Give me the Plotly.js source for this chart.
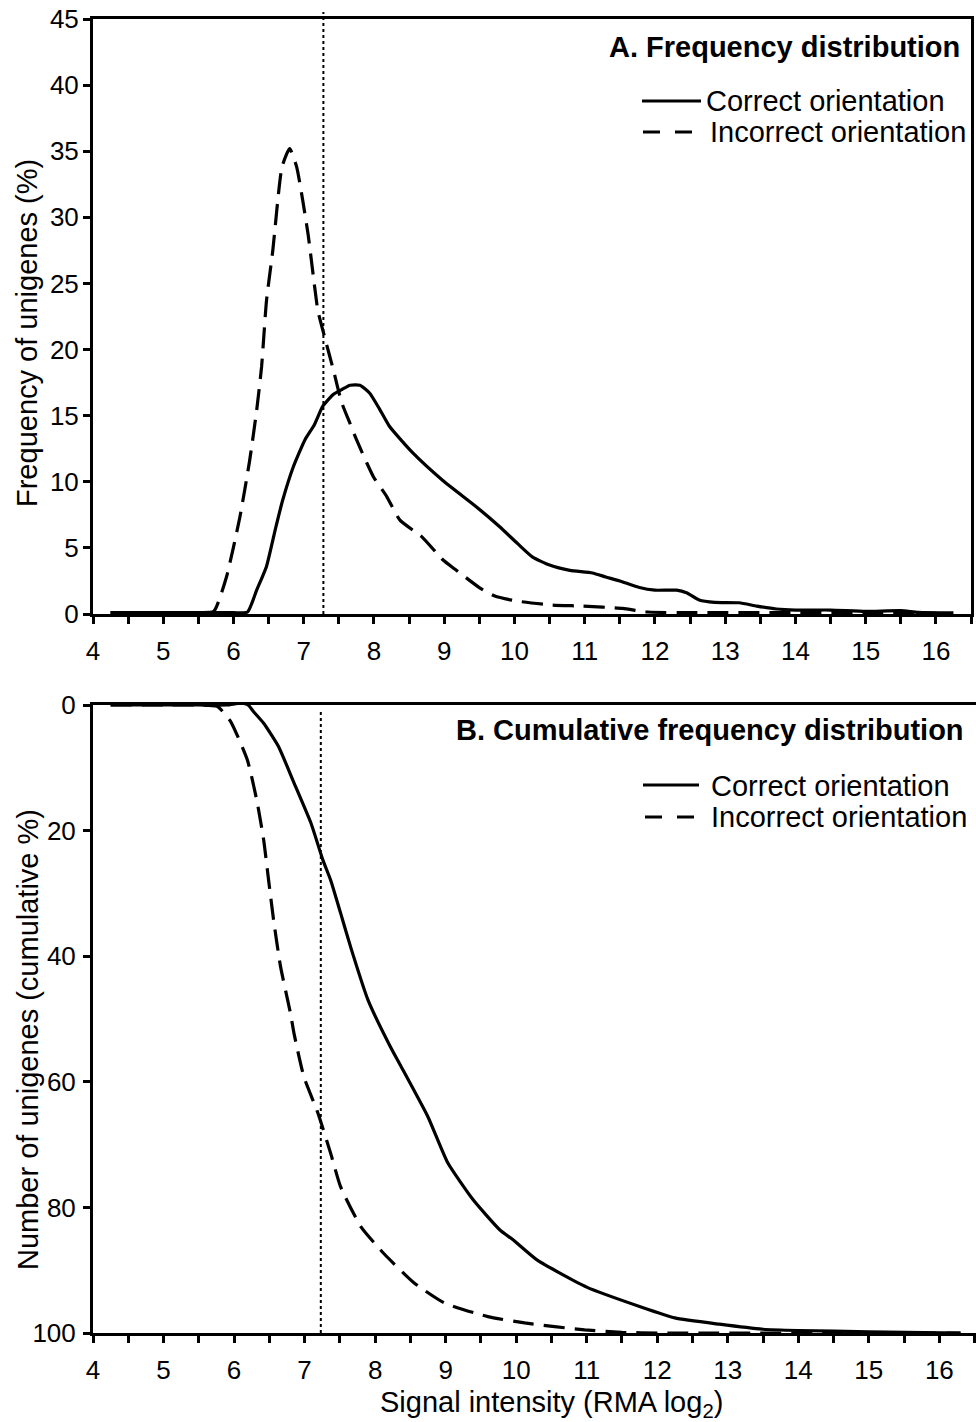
<!DOCTYPE html>
<html>
<head>
<meta charset="utf-8">
<script src="https://cdn.plot.ly/plotly-3.0.1.min.js"></script>
<style>
  html, body { margin: 0; padding: 0; background: #fff; }
  #chart { width: 976px; height: 1422px; }
</style>
</head>
<body>
<div id="chart"></div>
<script>
// ---------- Data ----------
// Panel A: frequency distribution (%)
const freqCorrectX = [4.25, 5.0, 5.5, 6.0, 6.2, 6.33, 6.47, 6.6, 6.7, 6.85, 7.02, 7.15, 7.27, 7.42, 7.55, 7.66, 7.8, 7.94, 8.08, 8.22, 8.55, 8.98, 9.46, 9.79, 10.05, 10.26, 10.5, 10.79, 11.11, 11.3, 11.5, 11.78, 12.0, 12.31, 12.45, 12.63, 12.85, 13.2, 13.45, 13.73, 14.0, 14.5, 15.0, 15.5, 15.75, 16.25];
const freqCorrectY = [0.1, 0.1, 0.1, 0.1, 0.15, 1.8, 3.6, 6.5, 8.6, 11.1, 13.2, 14.3, 15.7, 16.6, 17.0, 17.3, 17.3, 16.7, 15.5, 14.2, 12.2, 10.1, 8.1, 6.6, 5.3, 4.3, 3.7, 3.3, 3.1, 2.8, 2.5, 2.0, 1.8, 1.8, 1.6, 1.06, 0.88, 0.85, 0.6, 0.38, 0.3, 0.3, 0.2, 0.25, 0.12, 0.08];

const freqIncorrectX = [4.25, 5.0, 5.5, 5.72, 5.9, 6.09, 6.23, 6.33, 6.4, 6.47, 6.56, 6.69, 6.8, 6.9, 7.06, 7.2, 7.28, 7.42, 7.54, 7.66, 7.75, 7.9, 8.0, 8.18, 8.37, 8.69, 8.98, 9.15, 9.5, 9.72, 10.03, 10.54, 10.97, 11.54, 11.9, 12.5, 13.0, 14.0, 15.0, 16.0];
const freqIncorrectY = [0.1, 0.1, 0.1, 0.2, 2.8, 7.3, 11.6, 15.4, 18.7, 23.7, 27.5, 33.8, 35.2, 33.8, 28.8, 23.0, 21.3, 18.5, 16.0, 14.4, 13.2, 11.4, 10.3, 8.9, 7.1, 5.8, 4.1, 3.4, 2.0, 1.36, 0.98, 0.68, 0.6, 0.42, 0.15, 0.1, 0.1, 0.1, 0.1, 0.05];

// Panel B: cumulative frequency distribution (%)
const cumCorrectX = [4.25, 5.0, 5.5, 5.9, 6.1, 6.2, 6.28, 6.42, 6.63, 6.85, 7.09, 7.26, 7.37, 7.51, 7.66, 7.9, 8.22, 8.37, 8.75, 9.03, 9.39, 9.77, 9.96, 10.3, 11.0, 11.78, 12.25, 12.88, 13.5, 14.0, 15.0, 16.3];
const cumCorrectY = [0, 0, 0, 0, -0.3, 0, 1.1, 2.9, 6.6, 12.4, 18.8, 24.7, 27.9, 33.1, 38.8, 47.0, 54.5, 57.6, 65.6, 72.9, 78.8, 83.6, 85.2, 88.4, 92.7, 95.9, 97.6, 98.6, 99.4, 99.6, 99.8, 100];

const cumIncorrectX = [4.25, 5.0, 5.5, 5.76, 5.95, 6.19, 6.33, 6.42, 6.49, 6.56, 6.66, 6.8, 6.85, 6.99, 7.19, 7.37, 7.51, 7.8, 8.12, 8.55, 8.98, 9.6, 10.12, 10.97, 11.5, 12.0, 16.3];
const cumIncorrectY = [0, 0, 0, 0.2, 2.6, 8.8, 15.6, 21.5, 27.9, 34.2, 41.7, 49.1, 52.3, 59.2, 65.0, 71.4, 76.7, 83.1, 87.3, 92.0, 95.2, 97.4, 98.4, 99.5, 99.9, 100, 100];

// Threshold (dotted vertical line), RMA log2
const thresholdA = 7.28;
const thresholdB = 7.23;

// Text
const seriesNames = ['Correct orientation', 'Incorrect orientation'];
const panelTitles = ['A. Frequency distribution', 'B. Cumulative frequency distribution'];
const xTitle = 'Signal intensity (RMA log<sub>2</sub>)';
const yTitles = ['Frequency of unigenes (%)', 'Number of unigenes (cumulative %)'];

// ---------- Layout helpers (pixel -> paper) ----------
const W = 976, H = 1422, ML = 93, MR = 0, MT = 19, MB = 89;
const PW = W - ML - MR, PH = H - MT - MB;
const px2x = p => (p - ML) / PW;
const py2y = p => (H - MB - p) / PH;

const FONT = 'Liberation Sans, Arial, Helvetica, sans-serif';
const solid = {color: '#000', width: 3.2, shape: 'spline', smoothing: 0.5};
const dashed = {color: '#000', width: 3.2, shape: 'spline', smoothing: 0.5, dash: '21px,10px'};

const traces = [
  {x: freqCorrectX, y: freqCorrectY, xaxis: 'x', yaxis: 'y', mode: 'lines', line: solid, name: seriesNames[0]},
  {x: freqIncorrectX, y: freqIncorrectY, xaxis: 'x', yaxis: 'y', mode: 'lines', line: dashed, name: seriesNames[1]},
  {x: cumCorrectX, y: cumCorrectY, xaxis: 'x2', yaxis: 'y2', mode: 'lines', line: solid, name: seriesNames[0]},
  {x: cumIncorrectX, y: cumIncorrectY, xaxis: 'x2', yaxis: 'y2', mode: 'lines', line: dashed, name: seriesNames[1]}
];

const axisCommon = {
  showline: true, linecolor: '#000', linewidth: 3,
  ticks: 'outside', ticklen: 7, tickwidth: 3, tickcolor: '#000',
  showgrid: false, zeroline: false,
  tickfont: {family: FONT, size: 26, color: '#000'}
};
const xMinor = {dtick: 0.5, ticks: 'outside', ticklen: 7, tickwidth: 3, tickcolor: '#000', showgrid: false};

const layout = {
  width: W, height: H,
  margin: {l: ML, r: MR, t: MT, b: MB, pad: 0},
  paper_bgcolor: '#fff', plot_bgcolor: '#fff',
  showlegend: false,
  font: {family: FONT, color: '#000'},
  xaxis: Object.assign({}, axisCommon, {
    domain: [0, px2x(971)], range: [4, 16.5], anchor: 'y',
    tick0: 4, dtick: 1, minor: xMinor, mirror: true, ticklabelstandoff: 5
  }),
  yaxis: Object.assign({}, axisCommon, {
    domain: [py2y(614), 1], range: [0, 45], anchor: 'x',
    tick0: 0, dtick: 5, mirror: true, ticklabelstandoff: -1
  }),
  xaxis2: Object.assign({}, axisCommon, {
    domain: [0, 1], range: [4, 16.52], anchor: 'y2',
    tick0: 4, dtick: 1, minor: xMinor, mirror: true, ticklabelstandoff: 5
  }),
  yaxis2: Object.assign({}, axisCommon, {
    domain: [0, py2y(705)], range: [100, 0], anchor: 'x2',
    tick0: 0, dtick: 20, mirror: false, ticklabelstandoff: 2
  }),
  shapes: [
    // threshold dotted lines
    {type: 'line', xref: 'x', yref: 'paper', x0: thresholdA, x1: thresholdA, y0: py2y(614), y1: py2y(12),
     line: {color: '#000', width: 2, dash: 'dot'}},
    {type: 'line', xref: 'x2', yref: 'paper', x0: thresholdB, x1: thresholdB, y0: py2y(1333), y1: py2y(710),
     line: {color: '#000', width: 2, dash: 'dot'}},
    // legend samples panel A
    {type: 'line', xref: 'paper', yref: 'paper', x0: px2x(642), x1: px2x(701), y0: py2y(101), y1: py2y(101),
     line: {color: '#000', width: 3}},
    {type: 'line', xref: 'paper', yref: 'paper', x0: px2x(643), x1: px2x(702), y0: py2y(132), y1: py2y(132),
     line: {color: '#000', width: 3, dash: '17px,15px'}},
    // legend samples panel B
    {type: 'line', xref: 'paper', yref: 'paper', x0: px2x(643), x1: px2x(699), y0: py2y(785), y1: py2y(785),
     line: {color: '#000', width: 3}},
    {type: 'line', xref: 'paper', yref: 'paper', x0: px2x(645), x1: px2x(698), y0: py2y(817), y1: py2y(817),
     line: {color: '#000', width: 3, dash: '17px,15px'}}
  ],
  annotations: [
    {text: '<b>' + panelTitles[0] + '</b>', xref: 'paper', yref: 'paper', x: px2x(962), y: py2y(47),
     xanchor: 'right', yanchor: 'middle', showarrow: false, font: {family: FONT, size: 29, color: '#000'}},
    {text: seriesNames[0], xref: 'paper', yref: 'paper', x: px2x(704), y: py2y(101),
     xanchor: 'left', yanchor: 'middle', showarrow: false, font: {family: FONT, size: 29, color: '#000'}},
    {text: seriesNames[1], xref: 'paper', yref: 'paper', x: px2x(708), y: py2y(132),
     xanchor: 'left', yanchor: 'middle', showarrow: false, font: {family: FONT, size: 29, color: '#000'}},
    {text: '<b>' + panelTitles[1] + '</b>', xref: 'paper', yref: 'paper', x: px2x(966), y: py2y(730),
     xanchor: 'right', yanchor: 'middle', showarrow: false, font: {family: FONT, size: 29, color: '#000'}},
    {text: seriesNames[0], xref: 'paper', yref: 'paper', x: px2x(709), y: py2y(786),
     xanchor: 'left', yanchor: 'middle', showarrow: false, font: {family: FONT, size: 29, color: '#000'}},
    {text: seriesNames[1], xref: 'paper', yref: 'paper', x: px2x(709), y: py2y(817),
     xanchor: 'left', yanchor: 'middle', showarrow: false, font: {family: FONT, size: 29, color: '#000'}},
    {text: yTitles[0], xref: 'paper', yref: 'paper', x: px2x(27), y: py2y(333), textangle: -90,
     xanchor: 'center', yanchor: 'middle', showarrow: false, font: {family: FONT, size: 29, color: '#000'}},
    {text: yTitles[1], xref: 'paper', yref: 'paper', x: px2x(28), y: py2y(1040), textangle: -90,
     xanchor: 'center', yanchor: 'middle', showarrow: false, font: {family: FONT, size: 29, color: '#000'}},
    {text: xTitle, xref: 'paper', yref: 'paper', x: px2x(551), y: py2y(1404),
     xanchor: 'center', yanchor: 'middle', showarrow: false, font: {family: FONT, size: 29, color: '#000'}}
  ]
};

Plotly.newPlot('chart', traces, layout, {staticPlot: true, displayModeBar: false});
</script>
</body>
</html>
